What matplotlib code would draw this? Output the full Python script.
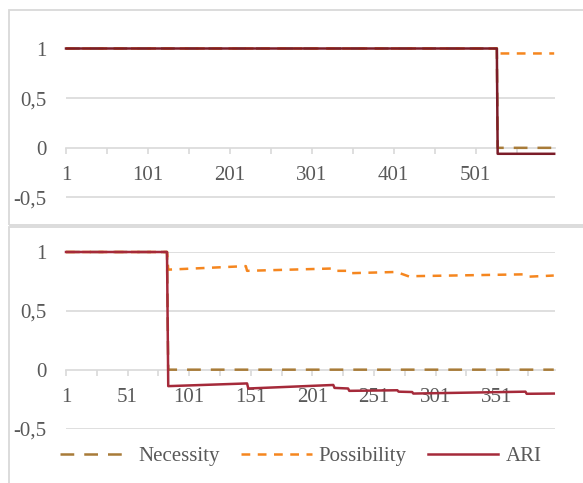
import matplotlib
matplotlib.use('Agg')
import matplotlib.pyplot as plt
import matplotlib.patches as mpatches
from matplotlib.ticker import FixedLocator, NullFormatter

plt.rcParams['font.family'] = ['Liberation Serif', 'DejaVu Serif']

# top run: 597 steps
top_n = 597
top_nec_x = [1, 527, 528, 597]
top_nec_y = [1, 1, 0, 0]
top_pos_x = [1, 527, 528, 597]
top_pos_y = [1, 1, 0.95, 0.95]
top_ari_x = [1, 527, 528, 597]
top_ari_y = [1, 1, -0.06, -0.06]
top_ticks = [1, 101, 201, 301, 401, 501]

# bottom run: 397 steps
bot_n = 397
bot_nec_x = [1, 83, 84, 397]
bot_nec_y = [1, 1, 0, 0]
bot_pos_x = [1, 83, 84, 147, 148, 218, 220, 231, 232, 268, 272, 280, 285, 372, 376, 397]
bot_pos_y = [1, 1, 0.85, 0.88, 0.84, 0.86, 0.84, 0.84, 0.82, 0.83, 0.82, 0.79, 0.795, 0.81, 0.79, 0.80]
bot_ari_x = [1, 83, 84, 148, 149, 218, 219, 230, 231, 270, 271, 282, 283, 374, 375, 397]
bot_ari_y = [1, 1, -0.14, -0.117, -0.16, -0.13, -0.155, -0.16, -0.18, -0.175, -0.187, -0.19, -0.203, -0.187, -0.205, -0.203]
bot_ticks = [1, 51, 101, 151, 201, 251, 301, 351]

labels = ['Necessity', 'Possibility', 'ARI']
c_nec = '#A87B38'
c_pos = '#F5861F'
c_ari_top = '#7B1C28'
c_ari_bot = '#A52A3A'
grid_c = '#D9D9D9'
text_c = '#595959'

W, H = 583, 483
fig = plt.figure(figsize=(W / 100, H / 100), dpi=100, facecolor='white')

# panel frames
for (x0, y0, x1, y1) in [(8.5, 9.5, 600, 224.5), (8.5, 226.5, 600, 520)]:
    fig.patches.append(mpatches.Rectangle((x0 / W, 1 - y1 / H), (x1 - x0) / W, (y1 - y0) / H,
                                          transform=fig.transFigure, fill=False,
                                          edgecolor=grid_c, linewidth=1.3))


def setup(ax, n, ticks, minor_step):
    ax.set_xlim(1, n + 1)
    ax.set_ylim(-0.5, 1)
    ax.set_yticks([-0.5, 0, 0.5, 1])
    ax.set_yticklabels(['-0,5', '0', '0,5', '1'])
    for y in [-0.5, 0.5, 1]:
        ax.axhline(y, color=grid_c, linewidth=1.2, zorder=0)
    for s in ['top', 'right', 'left']:
        ax.spines[s].set_visible(False)
    ax.spines['bottom'].set_position(('data', 0))
    ax.spines['bottom'].set_color(grid_c)
    ax.spines['bottom'].set_linewidth(1.2)
    ax.spines['bottom'].set_zorder(0)
    ax.xaxis.set_major_locator(FixedLocator(ticks))
    ax.set_xticklabels([str(t) for t in ticks])
    minors = list(range(1, n + 1, minor_step))
    ax.xaxis.set_minor_locator(FixedLocator(minors))
    ax.xaxis.set_minor_formatter(NullFormatter())
    ax.tick_params(axis='x', which='both', direction='out', length=4, color=grid_c,
                   width=1.2, labelsize=15, labelcolor=text_c, pad=9)
    ax.tick_params(axis='y', length=0, labelsize=15, labelcolor=text_c, pad=14)
    ax.set_facecolor('none')


lw = 1.8
nec_dash = (5.5, 4)
pos_dash = (3.5, 3)

ax1 = fig.add_axes([66 / W, (H - 197.5) / H, 489 / W, 149 / H])
setup(ax1, top_n, top_ticks, 50)
ax1.plot(top_nec_x, top_nec_y, color=c_nec, linewidth=lw, dashes=nec_dash, zorder=3, clip_on=False)
ax1.plot(top_pos_x, top_pos_y, color=c_pos, linewidth=lw, dashes=pos_dash, zorder=3, clip_on=False)
ax1.plot(top_ari_x, top_ari_y, color=c_ari_top, linewidth=lw, zorder=4, clip_on=False)

ax2 = fig.add_axes([66 / W, (H - 428.5) / H, 489 / W, 176.5 / H])
setup(ax2, bot_n, bot_ticks, 25)
l1, = ax2.plot(bot_nec_x, bot_nec_y, color=c_nec, linewidth=lw, dashes=nec_dash, zorder=3, clip_on=False)
l2, = ax2.plot(bot_pos_x, bot_pos_y, color=c_pos, linewidth=lw, dashes=pos_dash, zorder=3, clip_on=False)
l3, = ax2.plot(bot_ari_x, bot_ari_y, color=c_ari_bot, linewidth=lw, zorder=4, clip_on=False)

leg = fig.legend([l1, l2, l3], labels, loc='center', bbox_to_anchor=(301 / W, 1 - 456 / H),
                 ncol=3, frameon=False, fontsize=15, handlelength=3.4, handletextpad=0.35,
                 columnspacing=1.0, labelcolor=text_c)

fig.savefig('out.png', dpi=100, facecolor='white')
